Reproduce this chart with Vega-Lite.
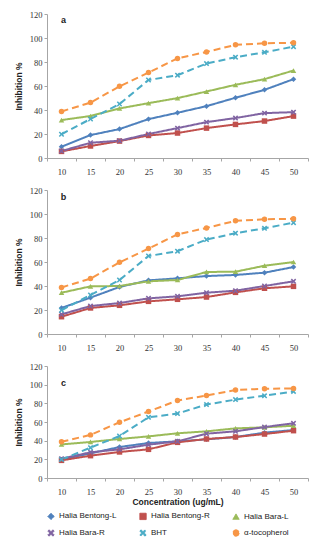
{
  "$schema": "https://vega.github.io/schema/vega-lite/v6.json",
  "padding": {"left": 14, "top": 10, "right": 5, "bottom": 2},
  "background": "white",
  "datasets": {
    "main": [
      {"panel":"a","series":"Halia Bentong-L","conc":10,"value":9.4},
      {"panel":"a","series":"Halia Bentong-L","conc":15,"value":19.1},
      {"panel":"a","series":"Halia Bentong-L","conc":20,"value":24.1},
      {"panel":"a","series":"Halia Bentong-L","conc":25,"value":32.4},
      {"panel":"a","series":"Halia Bentong-L","conc":30,"value":37.7},
      {"panel":"a","series":"Halia Bentong-L","conc":35,"value":43.2},
      {"panel":"a","series":"Halia Bentong-L","conc":40,"value":50.2},
      {"panel":"a","series":"Halia Bentong-L","conc":45,"value":56.8},
      {"panel":"a","series":"Halia Bentong-L","conc":50,"value":65.7},
      {"panel":"a","series":"Halia Bentong-R","conc":10,"value":5.5},
      {"panel":"a","series":"Halia Bentong-R","conc":15,"value":10},
      {"panel":"a","series":"Halia Bentong-R","conc":20,"value":14.1},
      {"panel":"a","series":"Halia Bentong-R","conc":25,"value":18.8},
      {"panel":"a","series":"Halia Bentong-R","conc":30,"value":20.8},
      {"panel":"a","series":"Halia Bentong-R","conc":35,"value":24.9},
      {"panel":"a","series":"Halia Bentong-R","conc":40,"value":28},
      {"panel":"a","series":"Halia Bentong-R","conc":45,"value":30.8},
      {"panel":"a","series":"Halia Bentong-R","conc":50,"value":34.9},
      {"panel":"a","series":"Halia Bara-L","conc":10,"value":31.6},
      {"panel":"a","series":"Halia Bara-L","conc":15,"value":35},
      {"panel":"a","series":"Halia Bara-L","conc":20,"value":41.3},
      {"panel":"a","series":"Halia Bara-L","conc":25,"value":45.7},
      {"panel":"a","series":"Halia Bara-L","conc":30,"value":49.9},
      {"panel":"a","series":"Halia Bara-L","conc":35,"value":55.4},
      {"panel":"a","series":"Halia Bara-L","conc":40,"value":61},
      {"panel":"a","series":"Halia Bara-L","conc":45,"value":65.7},
      {"panel":"a","series":"Halia Bara-L","conc":50,"value":72.9},
      {"panel":"a","series":"Halia Bara-R","conc":10,"value":5.8},
      {"panel":"a","series":"Halia Bara-R","conc":15,"value":12.7},
      {"panel":"a","series":"Halia Bara-R","conc":20,"value":14.4},
      {"panel":"a","series":"Halia Bara-R","conc":25,"value":20},
      {"panel":"a","series":"Halia Bara-R","conc":30,"value":24.9},
      {"panel":"a","series":"Halia Bara-R","conc":35,"value":29.9},
      {"panel":"a","series":"Halia Bara-R","conc":40,"value":33.3},
      {"panel":"a","series":"Halia Bara-R","conc":45,"value":37.4},
      {"panel":"a","series":"Halia Bara-R","conc":50,"value":38.2},
      {"panel":"a","series":"BHT","conc":10,"value":19.8},
      {"panel":"a","series":"BHT","conc":15,"value":32.5},
      {"panel":"a","series":"BHT","conc":20,"value":45},
      {"panel":"a","series":"BHT","conc":25,"value":65},
      {"panel":"a","series":"BHT","conc":30,"value":69},
      {"panel":"a","series":"BHT","conc":35,"value":78.7},
      {"panel":"a","series":"BHT","conc":40,"value":84},
      {"panel":"a","series":"BHT","conc":45,"value":88.1},
      {"panel":"a","series":"BHT","conc":50,"value":92.8},
      {"panel":"a","series":"α-tocopherol","conc":10,"value":38.8},
      {"panel":"a","series":"α-tocopherol","conc":15,"value":46.2},
      {"panel":"a","series":"α-tocopherol","conc":20,"value":59.7},
      {"panel":"a","series":"α-tocopherol","conc":25,"value":71.2},
      {"panel":"a","series":"α-tocopherol","conc":30,"value":83},
      {"panel":"a","series":"α-tocopherol","conc":35,"value":88.4},
      {"panel":"a","series":"α-tocopherol","conc":40,"value":94.3},
      {"panel":"a","series":"α-tocopherol","conc":45,"value":95.6},
      {"panel":"a","series":"α-tocopherol","conc":50,"value":96},

      {"panel":"b","series":"Halia Bentong-L","conc":10,"value":21.7},
      {"panel":"b","series":"Halia Bentong-L","conc":15,"value":30.3},
      {"panel":"b","series":"Halia Bentong-L","conc":20,"value":39.2},
      {"panel":"b","series":"Halia Bentong-L","conc":25,"value":44.7},
      {"panel":"b","series":"Halia Bentong-L","conc":30,"value":46.4},
      {"panel":"b","series":"Halia Bentong-L","conc":35,"value":48.3},
      {"panel":"b","series":"Halia Bentong-L","conc":40,"value":49.2},
      {"panel":"b","series":"Halia Bentong-L","conc":45,"value":51.1},
      {"panel":"b","series":"Halia Bentong-L","conc":50,"value":55.8},
      {"panel":"b","series":"Halia Bentong-R","conc":10,"value":14.4},
      {"panel":"b","series":"Halia Bentong-R","conc":15,"value":21.7},
      {"panel":"b","series":"Halia Bentong-R","conc":20,"value":23.9},
      {"panel":"b","series":"Halia Bentong-R","conc":25,"value":27.2},
      {"panel":"b","series":"Halia Bentong-R","conc":30,"value":28.9},
      {"panel":"b","series":"Halia Bentong-R","conc":35,"value":30.8},
      {"panel":"b","series":"Halia Bentong-R","conc":40,"value":34.7},
      {"panel":"b","series":"Halia Bentong-R","conc":45,"value":38.1},
      {"panel":"b","series":"Halia Bentong-R","conc":50,"value":39.7},
      {"panel":"b","series":"Halia Bara-L","conc":10,"value":34.4},
      {"panel":"b","series":"Halia Bara-L","conc":15,"value":39.7},
      {"panel":"b","series":"Halia Bara-L","conc":20,"value":40},
      {"panel":"b","series":"Halia Bara-L","conc":25,"value":43.9},
      {"panel":"b","series":"Halia Bara-L","conc":30,"value":45},
      {"panel":"b","series":"Halia Bara-L","conc":35,"value":51.7},
      {"panel":"b","series":"Halia Bara-L","conc":40,"value":51.9},
      {"panel":"b","series":"Halia Bara-L","conc":45,"value":56.9},
      {"panel":"b","series":"Halia Bara-L","conc":50,"value":60},
      {"panel":"b","series":"Halia Bara-R","conc":10,"value":16.4},
      {"panel":"b","series":"Halia Bara-R","conc":15,"value":23.3},
      {"panel":"b","series":"Halia Bara-R","conc":20,"value":25.8},
      {"panel":"b","series":"Halia Bara-R","conc":25,"value":29.7},
      {"panel":"b","series":"Halia Bara-R","conc":30,"value":31.4},
      {"panel":"b","series":"Halia Bara-R","conc":35,"value":34.4},
      {"panel":"b","series":"Halia Bara-R","conc":40,"value":36.1},
      {"panel":"b","series":"Halia Bara-R","conc":45,"value":40},
      {"panel":"b","series":"Halia Bara-R","conc":50,"value":43.9},
      {"panel":"b","series":"BHT","conc":10,"value":19.8},
      {"panel":"b","series":"BHT","conc":15,"value":32.5},
      {"panel":"b","series":"BHT","conc":20,"value":45},
      {"panel":"b","series":"BHT","conc":25,"value":65},
      {"panel":"b","series":"BHT","conc":30,"value":69},
      {"panel":"b","series":"BHT","conc":35,"value":78.7},
      {"panel":"b","series":"BHT","conc":40,"value":84},
      {"panel":"b","series":"BHT","conc":45,"value":88.1},
      {"panel":"b","series":"BHT","conc":50,"value":92.8},
      {"panel":"b","series":"α-tocopherol","conc":10,"value":38.8},
      {"panel":"b","series":"α-tocopherol","conc":15,"value":46.2},
      {"panel":"b","series":"α-tocopherol","conc":20,"value":59.7},
      {"panel":"b","series":"α-tocopherol","conc":25,"value":71.2},
      {"panel":"b","series":"α-tocopherol","conc":30,"value":83},
      {"panel":"b","series":"α-tocopherol","conc":35,"value":88.4},
      {"panel":"b","series":"α-tocopherol","conc":40,"value":94.3},
      {"panel":"b","series":"α-tocopherol","conc":45,"value":95.6},
      {"panel":"b","series":"α-tocopherol","conc":50,"value":96},

      {"panel":"c","series":"Halia Bentong-L","conc":10,"value":19.6},
      {"panel":"c","series":"Halia Bentong-L","conc":15,"value":26.4},
      {"panel":"c","series":"Halia Bentong-L","conc":20,"value":33.2},
      {"panel":"c","series":"Halia Bentong-L","conc":25,"value":37.5},
      {"panel":"c","series":"Halia Bentong-L","conc":30,"value":39.3},
      {"panel":"c","series":"Halia Bentong-L","conc":35,"value":41.4},
      {"panel":"c","series":"Halia Bentong-L","conc":40,"value":43.9},
      {"panel":"c","series":"Halia Bentong-L","conc":45,"value":48.6},
      {"panel":"c","series":"Halia Bentong-L","conc":50,"value":51.4},
      {"panel":"c","series":"Halia Bentong-R","conc":10,"value":18.9},
      {"panel":"c","series":"Halia Bentong-R","conc":15,"value":23.9},
      {"panel":"c","series":"Halia Bentong-R","conc":20,"value":27.9},
      {"panel":"c","series":"Halia Bentong-R","conc":25,"value":30.7},
      {"panel":"c","series":"Halia Bentong-R","conc":30,"value":38.2},
      {"panel":"c","series":"Halia Bentong-R","conc":35,"value":41.8},
      {"panel":"c","series":"Halia Bentong-R","conc":40,"value":43.9},
      {"panel":"c","series":"Halia Bentong-R","conc":45,"value":47.1},
      {"panel":"c","series":"Halia Bentong-R","conc":50,"value":50.7},
      {"panel":"c","series":"Halia Bara-L","conc":10,"value":36},
      {"panel":"c","series":"Halia Bara-L","conc":15,"value":38.6},
      {"panel":"c","series":"Halia Bara-L","conc":20,"value":41.8},
      {"panel":"c","series":"Halia Bara-L","conc":25,"value":44.6},
      {"panel":"c","series":"Halia Bara-L","conc":30,"value":47.9},
      {"panel":"c","series":"Halia Bara-L","conc":35,"value":50},
      {"panel":"c","series":"Halia Bara-L","conc":40,"value":53.2},
      {"panel":"c","series":"Halia Bara-L","conc":45,"value":54.3},
      {"panel":"c","series":"Halia Bara-L","conc":50,"value":56},
      {"panel":"c","series":"Halia Bara-R","conc":10,"value":20.7},
      {"panel":"c","series":"Halia Bara-R","conc":15,"value":27.5},
      {"panel":"c","series":"Halia Bara-R","conc":20,"value":30.7},
      {"panel":"c","series":"Halia Bara-R","conc":25,"value":35.7},
      {"panel":"c","series":"Halia Bara-R","conc":30,"value":39.3},
      {"panel":"c","series":"Halia Bara-R","conc":35,"value":47.5},
      {"panel":"c","series":"Halia Bara-R","conc":40,"value":50},
      {"panel":"c","series":"Halia Bara-R","conc":45,"value":54.6},
      {"panel":"c","series":"Halia Bara-R","conc":50,"value":58.6},
      {"panel":"c","series":"BHT","conc":10,"value":19.8},
      {"panel":"c","series":"BHT","conc":15,"value":32.5},
      {"panel":"c","series":"BHT","conc":20,"value":45},
      {"panel":"c","series":"BHT","conc":25,"value":65},
      {"panel":"c","series":"BHT","conc":30,"value":69},
      {"panel":"c","series":"BHT","conc":35,"value":78.7},
      {"panel":"c","series":"BHT","conc":40,"value":84},
      {"panel":"c","series":"BHT","conc":45,"value":88.1},
      {"panel":"c","series":"BHT","conc":50,"value":92.8},
      {"panel":"c","series":"α-tocopherol","conc":10,"value":38.8},
      {"panel":"c","series":"α-tocopherol","conc":15,"value":46.2},
      {"panel":"c","series":"α-tocopherol","conc":20,"value":59.7},
      {"panel":"c","series":"α-tocopherol","conc":25,"value":71.2},
      {"panel":"c","series":"α-tocopherol","conc":30,"value":83},
      {"panel":"c","series":"α-tocopherol","conc":35,"value":88.4},
      {"panel":"c","series":"α-tocopherol","conc":40,"value":94.3},
      {"panel":"c","series":"α-tocopherol","conc":45,"value":95.6},
      {"panel":"c","series":"α-tocopherol","conc":50,"value":96}
    ]
  },
  "spacing": 10,
  "vconcat": [
    {
      "width": 261, "height": 144,
      "layer": [
        {
          "data": {"name": "main"},
          "transform": [{"filter": "datum.panel == 'a'"}],
          "mark": {"type": "line", "strokeWidth": 2},
          "encoding": {
            "x": {"field": "conc", "type": "ordinal", "scale": {"type": "band", "paddingInner": 0, "paddingOuter": 0}, "axis": {"title": null}},
            "y": {"field": "value", "type": "quantitative", "scale": {"domain": [0, 120], "nice": false}, "axis": {"title": "Inhibition %", "values": [0, 20, 40, 60, 80, 100, 120]}},
            "color": {
              "field": "series", "type": "nominal",
              "scale": {"domain": ["Halia Bentong-L", "Halia Bentong-R", "Halia Bara-L", "Halia Bara-R", "BHT", "α-tocopherol"], "range": ["#4F81BD", "#C0504D", "#9BBB59", "#8064A2", "#4BACC6", "#F79646"]},
              "legend": {"orient": "bottom", "title": null, "columns": 3, "direction": "horizontal", "symbolSize": 40, "symbolStrokeWidth": 1, "labelFont": "Liberation Sans", "labelFontSize": 8, "labelColor": "#222222", "columnPadding": 20, "rowPadding": 5, "labelOffset": 4, "offset": 6}
            },
            "strokeDash": {"field": "series", "type": "nominal", "legend": null, "scale": {"domain": ["Halia Bentong-L", "Halia Bentong-R", "Halia Bara-L", "Halia Bara-R", "BHT", "α-tocopherol"], "range": [[1, 0], [1, 0], [1, 0], [1, 0], [7, 4], [7, 4]]}}
          }
        },
        {
          "data": {"name": "main"},
          "transform": [{"filter": "datum.panel == 'a'"}],
          "mark": {"type": "point", "filled": true, "opacity": 1, "size": 30},
          "encoding": {
            "x": {"field": "conc", "type": "ordinal"},
            "y": {"field": "value", "type": "quantitative", "axis": {"title": "Inhibition %", "values": [0, 20, 40, 60, 80, 100, 120]}},
            "color": {"field": "series", "type": "nominal"},
            "shape": {"field": "series", "type": "nominal", "legend": null, "scale": {"domain": ["Halia Bentong-L", "Halia Bentong-R", "Halia Bara-L", "Halia Bara-R", "BHT", "α-tocopherol"], "range": ["diamond", "square", "triangle-up", "M-1,-0.6L-0.6,-1L0,-0.4L0.6,-1L1,-0.6L0.4,0L1,0.6L0.6,1L0,0.4L-0.6,1L-1,0.6L-0.4,0Z", "M-1,-0.6L-0.6,-1L0,-0.4L0.6,-1L1,-0.6L0.4,0L1,0.6L0.6,1L0,0.4L-0.6,1L-1,0.6L-0.4,0Z", "circle"]}}
          }
        },
        {
          "data": {"values": [{}]},
          "mark": {"type": "text", "fontWeight": "bold", "fontSize": 9, "font": "Liberation Sans", "dx": 2, "color": "#222"},
          "encoding": {
            "x": {"datum": 10, "type": "ordinal"},
            "y": {"datum": 115, "type": "quantitative", "axis": {"title": "Inhibition %", "values": [0, 20, 40, 60, 80, 100, 120]}},
            "text": {"value": "a"}
          }
        }
      ]
    },
    {
      "width": 261, "height": 144,
      "layer": [
        {
          "data": {"name": "main"},
          "transform": [{"filter": "datum.panel == 'b'"}],
          "mark": {"type": "line", "strokeWidth": 2},
          "encoding": {
            "x": {"field": "conc", "type": "ordinal", "scale": {"type": "band", "paddingInner": 0, "paddingOuter": 0}, "axis": {"title": null}},
            "y": {"field": "value", "type": "quantitative", "scale": {"domain": [0, 120], "nice": false}, "axis": {"title": "Inhibition %", "values": [0, 20, 40, 60, 80, 100, 120]}},
            "color": {"field": "series", "type": "nominal"},
            "strokeDash": {"field": "series", "type": "nominal", "legend": null}
          }
        },
        {
          "data": {"name": "main"},
          "transform": [{"filter": "datum.panel == 'b'"}],
          "mark": {"type": "point", "filled": true, "opacity": 1, "size": 30},
          "encoding": {
            "x": {"field": "conc", "type": "ordinal"},
            "y": {"field": "value", "type": "quantitative", "axis": {"title": "Inhibition %", "values": [0, 20, 40, 60, 80, 100, 120]}},
            "color": {"field": "series", "type": "nominal"},
            "shape": {"field": "series", "type": "nominal", "legend": null}
          }
        },
        {
          "data": {"values": [{}]},
          "mark": {"type": "text", "fontWeight": "bold", "fontSize": 9, "font": "Liberation Sans", "dx": 2, "color": "#222"},
          "encoding": {
            "x": {"datum": 10, "type": "ordinal"},
            "y": {"datum": 114.5, "type": "quantitative", "axis": {"title": "Inhibition %", "values": [0, 20, 40, 60, 80, 100, 120]}},
            "text": {"value": "b"}
          }
        }
      ]
    },
    {
      "width": 261, "height": 112,
      "layer": [
        {
          "data": {"name": "main"},
          "transform": [{"filter": "datum.panel == 'c'"}],
          "mark": {"type": "line", "strokeWidth": 2},
          "encoding": {
            "x": {"field": "conc", "type": "ordinal", "scale": {"type": "band", "paddingInner": 0, "paddingOuter": 0}, "axis": {"title": "Concentration (ug/mL)", "titlePadding": 1}},
            "y": {"field": "value", "type": "quantitative", "scale": {"domain": [0, 120], "nice": false}, "axis": {"title": "Inhibition %", "values": [0, 20, 40, 60, 80, 100, 120]}},
            "color": {"field": "series", "type": "nominal"},
            "strokeDash": {"field": "series", "type": "nominal", "legend": null}
          }
        },
        {
          "data": {"name": "main"},
          "transform": [{"filter": "datum.panel == 'c'"}],
          "mark": {"type": "point", "filled": true, "opacity": 1, "size": 30},
          "encoding": {
            "x": {"field": "conc", "type": "ordinal"},
            "y": {"field": "value", "type": "quantitative", "axis": {"title": "Inhibition %", "values": [0, 20, 40, 60, 80, 100, 120]}},
            "color": {"field": "series", "type": "nominal"},
            "shape": {"field": "series", "type": "nominal", "legend": null}
          }
        },
        {
          "data": {"values": [{}]},
          "mark": {"type": "text", "fontWeight": "bold", "fontSize": 9, "font": "Liberation Sans", "dx": 2, "color": "#222"},
          "encoding": {
            "x": {"datum": 10, "type": "ordinal"},
            "y": {"datum": 102, "type": "quantitative", "axis": {"title": "Inhibition %", "values": [0, 20, 40, 60, 80, 100, 120]}},
            "text": {"value": "c"}
          }
        }
      ]
    }
  ],
  "resolve": {"scale": {"x": "independent", "y": "independent"}},
  "config": {
    "view": {"stroke": null},
    "font": "Liberation Sans",
    "axis": {
      "grid": false,
      "domainColor": "#A6A6A6",
      "tickColor": "#A6A6A6",
      "tickSize": 3,
      "labelFont": "Liberation Serif",
      "labelFontSize": 8.5,
      "labelColor": "#333333",
      "labelOverlap": false,
      "titleFont": "Liberation Sans",
      "titleFontSize": 8.5,
      "titleFontWeight": "bold",
      "titleColor": "#222222"
    },
    "axisY": {"labelPadding": 2, "titlePadding": 6},
    "axisX": {"labelAngle": 0, "tickBand": "extent", "labelPadding": 6.5}
  }
}
